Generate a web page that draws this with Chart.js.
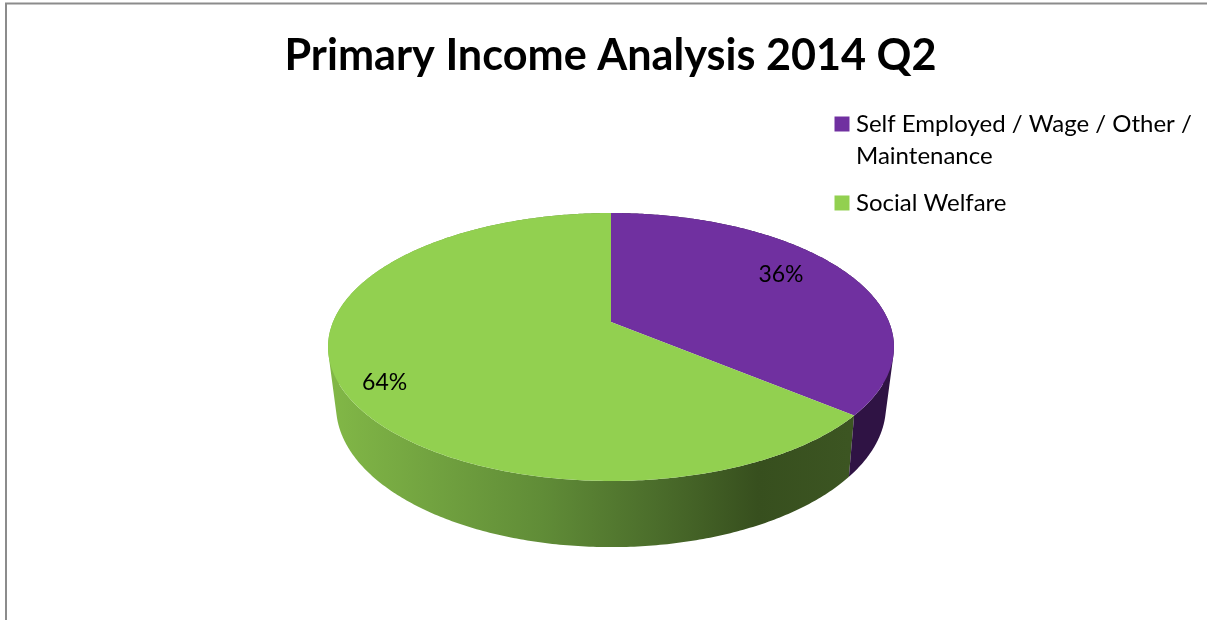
<!DOCTYPE html>
<html>
<head>
<meta charset="utf-8">
<style>html,body{margin:0;padding:0;background:#fff}canvas{display:block}</style>
<script src="https://cdn.jsdelivr.net/npm/chart.js@4/dist/chart.umd.js"></script>
</head>
<body>
<canvas id="c" width="1207" height="620" style="width:1207px;height:620px"></canvas>
<script>
const categories = ['Self Employed / Wage / Other / Maintenance', 'Social Welfare'];
const legendLines = [['Self Employed / Wage / Other /', 'Maintenance'], ['Social Welfare']];
const shares = [36, 64];
const topColors = ['#7030a0', '#92d050'];
const chartTitle = 'Primary Income Analysis 2014 Q2';

const FONT = 'Lato, Carlito, Calibri, sans-serif';
const TOP_RING = {cx: 611, cy: 322, bx: 278, by: 129.3, p: 0.1866};
const BOTTOM_RING = {cx: 611, cy: 378, bx: 269.4, by: 135.3, p: 0.2};
const LABEL_PLACE = [{r: 0.714, dy: -10}, {r: 0.84, dy: 11}];

function ringPoint(ring, angle, r) {
  const u = r * Math.cos(angle), v = r * Math.sin(angle), d = 1 - ring.p * v;
  return [ring.cx + ring.bx * u / d, ring.cy + ring.by * v / d];
}
function traceRim(ctx, ring, a0, a1, first) {
  const n = Math.max(2, Math.ceil(Math.abs(a1 - a0) * 90));
  for (let i = 0; i <= n; i++) {
    const p = ringPoint(ring, a0 + (a1 - a0) * i / n, 1);
    if (i === 0 && first) ctx.moveTo(p[0], p[1]); else ctx.lineTo(p[0], p[1]);
  }
}
function sideFill(ctx, index) {
  if (index === 0) return '#2f1344';
  const g = ctx.createLinearGradient(328, 0, 894, 0);
  g.addColorStop(0.00, '#82b847');
  g.addColorStop(0.18, '#72a340');
  g.addColorStop(0.38, '#608c37');
  g.addColorStop(0.58, '#4b6d2b');
  g.addColorStop(0.76, '#374f1e');
  g.addColorStop(0.92, '#3c5522');
  g.addColorStop(1.00, '#3c5522');
  return g;
}
function drawSide(ctx, arc, index) {
  const n = Math.ceil((arc.endAngle - arc.startAngle) * 90);
  ctx.beginPath();
  for (let i = 0; i < n; i++) {
    const a0 = arc.startAngle + (arc.endAngle - arc.startAngle) * i / n;
    const a1 = arc.startAngle + (arc.endAngle - arc.startAngle) * (i + 1) / n;
    let q = [ringPoint(TOP_RING, a0, 1), ringPoint(TOP_RING, a1, 1), ringPoint(BOTTOM_RING, a1, 1), ringPoint(BOTTOM_RING, a0, 1)];
    let area = 0;
    q.forEach((p, k) => { const s = q[(k + 1) % 4]; area += p[0] * s[1] - s[0] * p[1]; });
    if (area < 0) q = q.reverse();
    q.forEach((p, k) => k ? ctx.lineTo(p[0], p[1]) : ctx.moveTo(p[0], p[1]));
    ctx.closePath();
  }
  ctx.fillStyle = sideFill(ctx, index);
  ctx.fill('nonzero');
}

const perspectivePie = {
  id: 'perspectivePie',
  beforeDraw(chart) {
    const ctx = chart.ctx;
    ctx.save();
    ctx.strokeStyle = '#8c8c8c';
    ctx.lineWidth = 2;
    ctx.beginPath();
    ctx.moveTo(6, 620); ctx.lineTo(6, 3.5); ctx.lineTo(1207, 3.5);
    ctx.stroke();
    ctx.restore();
  },
  afterLayout(chart) {
    const l = chart.legend;
    l.left = 825; l.right = 1207; l.top = 97; l.bottom = 244;
  },
  beforeDatasetDraw(chart, args) {
    const ctx = chart.ctx;
    const arcs = chart.getDatasetMeta(args.index).data;
    ctx.save();
    [1, 0].forEach((i) => drawSide(ctx, arcs[i], i));
    arcs.forEach((arc) => {
      ctx.beginPath();
      ctx.moveTo(TOP_RING.cx, TOP_RING.cy);
      traceRim(ctx, TOP_RING, arc.startAngle, arc.endAngle, false);
      ctx.closePath();
      ctx.fillStyle = arc.options.backgroundColor;
      ctx.fill();
    });
    ctx.fillStyle = '#000';
    ctx.font = '23px ' + FONT;
    ctx.textAlign = 'center';
    ctx.textBaseline = 'middle';
    arcs.forEach((arc, i) => {
      const mid = (arc.startAngle + arc.endAngle) / 2;
      const p = ringPoint(TOP_RING, mid, LABEL_PLACE[i].r);
      ctx.fillText(shares[i] + '%', p[0], p[1] + LABEL_PLACE[i].dy);
    });
    ctx.restore();
    return false;
  }
};

new Chart(document.getElementById('c'), {
  type: 'pie',
  data: {
    labels: categories,
    datasets: [{data: shares, backgroundColor: topColors, borderWidth: 0}]
  },
  plugins: [perspectivePie],
  options: {
    responsive: false,
    devicePixelRatio: 1,
    animation: false,
    layout: {padding: {left: 14}},
    plugins: {
      tooltip: {enabled: false},
      title: {
        display: true,
        text: chartTitle,
        color: '#000',
        font: {family: FONT, size: 43.2, weight: 'bold'},
        padding: {top: 30, bottom: 10}
      },
      legend: {
        position: 'chartArea',
        align: 'start',
        labels: {
          color: '#000',
          font: {family: FONT, size: 24, lineHeight: 1.333},
          boxWidth: 4,
          boxHeight: 4,
          padding: 15,
          generateLabels(chart) {
            return categories.map((c, i) => ({
              text: legendLines[i],
              fillStyle: topColors[i],
              strokeStyle: topColors[i],
              lineWidth: 11,
              lineJoin: 'miter',
              index: i
            }));
          }
        }
      }
    }
  }
});
</script>
</body>
</html>
